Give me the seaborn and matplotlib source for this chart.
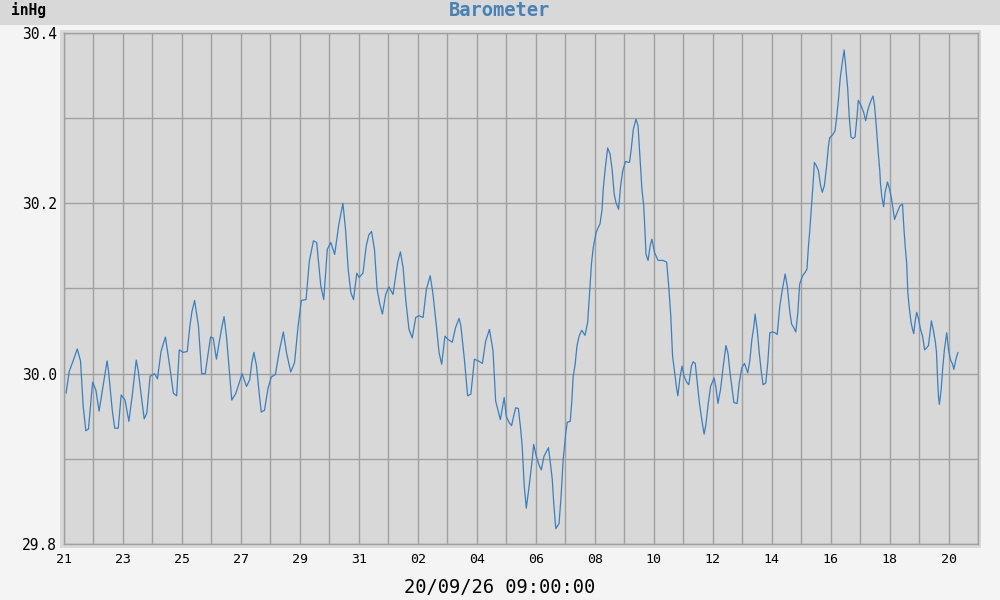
import matplotlib
matplotlib.use("Agg")
import matplotlib.pyplot as plt
import matplotlib.dates as mdates
from matplotlib.patches import Rectangle
import numpy as np
import pandas as pd
import seaborn as sns

# start of the plotted period
start_date = "2020-08-21"
end_date = "2020-09-21"

# times are given as days after start_date, pressure in inHg
days = [
    0.07, 0.18, 0.31, 0.45, 0.56, 0.65, 0.74, 0.83, 0.97, 1.08, 1.19, 1.33, 1.46, 1.51, 1.64, 1.72,
    1.84, 1.94, 2.07, 2.20, 2.31, 2.45, 2.52, 2.61, 2.72, 2.81, 2.92, 3.07, 3.17, 3.29, 3.44, 3.60,
    3.71, 3.82, 3.91, 4.04, 4.18, 4.27, 4.34, 4.43, 4.56, 4.67, 4.79, 4.90, 4.97, 5.06,
    5.17, 5.26, 5.35, 5.43, 5.51, 5.60, 5.69, 5.83, 6.04, 6.19, 6.30, 6.37, 6.44, 6.53, 6.62, 6.69,
    6.80, 6.92, 7.03, 7.17, 7.30, 7.44, 7.55, 7.69, 7.82, 7.94, 8.05, 8.21, 8.32, 8.46, 8.57, 8.71,
    8.81, 8.93, 9.05, 9.18, 9.32, 9.46, 9.55, 9.64, 9.73, 9.82, 9.93,
    10.01, 10.14, 10.25, 10.34, 10.43, 10.53, 10.62, 10.71, 10.80, 10.91, 11.02, 11.16, 11.25, 11.32,
    11.41, 11.50, 11.59, 11.70, 11.81, 11.93, 12.04, 12.18, 12.29, 12.42, 12.51, 12.63, 12.72, 12.81,
    12.92, 13.03, 13.17, 13.28, 13.40, 13.46, 13.58, 13.69, 13.80, 13.92, 14.05, 14.19, 14.30, 14.43,
    14.55, 14.64, 14.80, 14.93,
    15.00, 15.09, 15.18, 15.25, 15.32, 15.41, 15.48, 15.54, 15.61, 15.68, 15.79, 15.88, 15.93, 16.02,
    16.11, 16.19, 16.28, 16.43, 16.49, 16.56, 16.61, 16.68, 16.79, 16.86, 16.93, 17.02, 17.07, 17.17,
    17.22, 17.27, 17.33, 17.40, 17.47, 17.56, 17.67, 17.76, 17.81,
    17.89, 17.95, 18.05, 18.11, 18.18, 18.25, 18.29, 18.36, 18.44, 18.52, 18.59, 18.66, 18.72, 18.81,
    18.88, 18.95, 19.04, 19.18, 19.24, 19.31, 19.40, 19.47, 19.54, 19.60, 19.66, 19.69, 19.74, 19.81,
    19.88, 19.94, 20.03, 20.15, 20.31, 20.44, 20.51, 20.58, 20.64, 20.71, 20.78, 20.82, 20.89, 20.96,
    21.03, 21.12, 21.19, 21.28, 21.34, 21.41, 21.48, 21.55, 21.64, 21.71, 21.77, 21.84, 21.93, 22.05,
    22.11, 22.18, 22.27, 22.36, 22.45, 22.52, 22.59,
    22.65, 22.72, 22.83, 22.90, 22.99, 23.08, 23.19, 23.26, 23.33, 23.40, 23.44, 23.51, 23.58, 23.64,
    23.71, 23.80, 23.87, 23.94, 24.03, 24.12, 24.19, 24.28, 24.37, 24.46, 24.53, 24.62, 24.68, 24.75,
    24.82, 24.89, 24.95, 25.05, 25.14, 25.20, 25.25, 25.29, 25.36, 25.41, 25.45, 25.52, 25.59, 25.66,
    25.72, 25.79, 25.86, 25.93, 25.97, 26.06, 26.15, 26.20, 26.27, 26.33, 26.40, 26.46, 26.51, 26.58,
    26.63, 26.69, 26.76, 26.83, 26.90, 26.94, 27.03, 27.12, 27.19, 27.26, 27.33, 27.40, 27.44, 27.49,
    27.55, 27.62,
    27.67, 27.69, 27.74, 27.80, 27.85, 27.93, 27.99, 28.06, 28.12, 28.17, 28.21, 28.28, 28.35, 28.44,
    28.49, 28.53, 28.58, 28.62, 28.67, 28.73, 28.78, 28.82, 28.87, 28.92, 28.98, 29.05, 29.12, 29.19,
    29.25, 29.32, 29.37, 29.42, 29.48, 29.55, 29.59, 29.63, 29.66, 29.69, 29.75, 29.80, 29.86, 29.91,
    29.94, 30.00, 30.07, 30.14, 30.18, 30.25, 30.32,
]
pressure = [
    29.977, 30.003, 30.015, 30.029, 30.015, 29.962, 29.933, 29.935, 29.990, 29.981, 29.956, 29.987, 30.015, 30.003, 29.956, 29.936,
    29.936, 29.975, 29.969, 29.944, 29.973, 30.016, 30.003, 29.977, 29.947, 29.954, 29.997, 30.000, 29.994, 30.026, 30.043, 30.005,
    29.977, 29.974, 30.028, 30.025, 30.026, 30.056, 30.073, 30.086, 30.056, 30.000, 30.000, 30.026, 30.043, 30.042,
    30.017, 30.036, 30.054, 30.067, 30.044, 30.007, 29.969, 29.977, 30.000, 29.985, 29.993, 30.013, 30.025, 30.009, 29.977, 29.955,
    29.957, 29.983, 29.996, 29.999, 30.026, 30.049, 30.024, 30.002, 30.013, 30.056, 30.086, 30.087, 30.132, 30.156, 30.154, 30.103,
    30.087, 30.146, 30.154, 30.140, 30.175, 30.200, 30.169, 30.122, 30.095, 30.087, 30.118,
    30.113, 30.118, 30.150, 30.163, 30.167, 30.146, 30.099, 30.082, 30.070, 30.093, 30.102, 30.093, 30.115, 30.131,
    30.143, 30.125, 30.087, 30.052, 30.042, 30.066, 30.068, 30.066, 30.099, 30.115, 30.095, 30.056, 30.025, 30.011,
    30.044, 30.040, 30.037, 30.054, 30.065, 30.056, 30.017, 29.974, 29.976, 30.017, 30.015, 30.012, 30.038, 30.052,
    30.027, 29.968, 29.946, 29.972,
    29.950, 29.943, 29.939, 29.950, 29.960, 29.959, 29.938, 29.915, 29.868, 29.842, 29.872, 29.899, 29.917, 29.903,
    29.893, 29.887, 29.903, 29.913, 29.897, 29.876, 29.848, 29.818, 29.824, 29.856, 29.899, 29.931, 29.943, 29.944,
    29.966, 29.997, 30.009, 30.033, 30.044, 30.051, 30.045, 30.060, 30.087,
    30.129, 30.148, 30.166, 30.171, 30.176, 30.193, 30.217, 30.242, 30.265, 30.258, 30.240, 30.211, 30.201, 30.193,
    30.221, 30.238, 30.249, 30.248, 30.264, 30.287, 30.299, 30.291, 30.252, 30.217, 30.198, 30.178, 30.140, 30.133,
    30.150, 30.158, 30.142, 30.133, 30.133, 30.131, 30.103, 30.068, 30.021, 30.001, 29.982, 29.974, 29.995, 30.009,
    29.997, 29.990, 29.987, 30.009, 30.014, 30.012, 29.989, 29.966, 29.944, 29.929, 29.940, 29.962, 29.985, 29.995,
    29.984, 29.965, 29.982, 30.009, 30.033, 30.024, 30.001,
    29.985, 29.966, 29.965, 29.989, 30.007, 30.012, 30.001, 30.015, 30.040, 30.056, 30.070, 30.052, 30.025, 30.005,
    29.987, 29.989, 30.013, 30.048, 30.049, 30.048, 30.046, 30.080, 30.100, 30.117, 30.103, 30.072, 30.058, 30.054,
    30.049, 30.072, 30.105, 30.115, 30.119, 30.123, 30.150, 30.166, 30.201, 30.225, 30.248, 30.244, 30.238, 30.221,
    30.213, 30.221, 30.242, 30.268, 30.277, 30.280, 30.285, 30.299, 30.323, 30.348, 30.366, 30.380, 30.362, 30.335,
    30.303, 30.278, 30.276, 30.278, 30.303, 30.321, 30.315, 30.307, 30.297, 30.309, 30.317, 30.323, 30.326, 30.315,
    30.291, 30.258,
    30.238, 30.224, 30.207, 30.196, 30.213, 30.225, 30.218, 30.207, 30.193, 30.181, 30.185, 30.191, 30.197, 30.199,
    30.169, 30.150, 30.130, 30.095, 30.077, 30.060, 30.052, 30.047, 30.062, 30.072, 30.065, 30.052, 30.044, 30.028,
    30.030, 30.033, 30.048, 30.062, 30.052, 30.038, 30.026, 29.993, 29.973, 29.964, 29.981, 30.005, 30.028, 30.040,
    30.048, 30.028, 30.016, 30.011, 30.005, 30.017, 30.025,
]

title = "Barometer"
unit_label = "inHg"
bottom_label = "20/09/26 09:00:00"
y_labels = [29.8, 30.0, 30.2, 30.4]
y_grid = [29.9, 30.1, 30.3]

line_color = "#3a7fbf"
panel_color = "#d8d8d8"
grid_color = "#a0a0a0"

sns.set_style("white")
plt.rcParams["font.family"] = ["DejaVu Sans Mono", "DejaVu Sans"]

df = pd.DataFrame({
    "time": pd.Timestamp(start_date) + pd.to_timedelta(days, unit="D"),
    "pressure": pressure,
})

W, H = 1000, 600
fig = plt.figure(figsize=(10, 6), dpi=100, facecolor="#f4f4f4")

# top label band and chart background, kept behind the axes
fig.patches.append(Rectangle((0, 1 - 25 / H), 1, 25 / H, transform=fig.transFigure,
                             facecolor=panel_color, edgecolor="none", zorder=-10))
fig.patches.append(Rectangle((60 / W, 1 - 548 / H), (981 - 60) / W, (548 - 30) / H,
                             transform=fig.transFigure, facecolor=panel_color,
                             edgecolor="none", zorder=-10))

ax = fig.add_axes([64 / W, 1 - 544 / H, (978 - 64) / W, (544 - 33) / H])
ax.set_zorder(1)
ax.set_facecolor(panel_color)

sns.lineplot(data=df, x="time", y="pressure", ax=ax, color=line_color, linewidth=0.9,
             estimator=None, sort=False)

ax.set_ylim(29.8, 30.4)
ax.set_xlim(pd.Timestamp(start_date), pd.Timestamp(end_date))

ax.set_yticks(y_labels)
ax.set_yticklabels([f"{v:.1f}" for v in y_labels])
ax.set_yticks(y_grid, minor=True)

major_days = pd.date_range(start_date, "2020-09-20", freq="2D")
all_days = pd.date_range(start_date, end_date, freq="D")
ax.set_xticks(major_days)
ax.xaxis.set_major_formatter(mdates.DateFormatter("%d"))
ax.set_xticks(all_days, minor=True)

ax.grid(True, which="both", color=grid_color, linewidth=1)
ax.set_axisbelow(True)
ax.tick_params(which="both", length=0, labelcolor="black")
ax.tick_params(axis="y", pad=5, labelsize=10.5)
ax.tick_params(axis="x", pad=6.5, labelsize=9.5)
ax.set_xlabel("")
ax.set_ylabel("")
for s in ax.spines.values():
    s.set_color(grid_color)
    s.set_linewidth(1)

fig.text(500 / W, 1 - 10.5 / H, title, ha="center", va="center", color="#4682b4",
         fontsize=13.5, fontweight="bold")
fig.text(10.5 / W, 1 - 9.5 / H, unit_label, ha="left", va="center", color="black",
         fontsize=10.5, fontweight="bold")
fig.text(500 / W, 1 - 587.5 / H, bottom_label, ha="center", va="center", color="black",
         fontsize=13.5)

fig.savefig("out.png", dpi=100, facecolor=fig.get_facecolor())
